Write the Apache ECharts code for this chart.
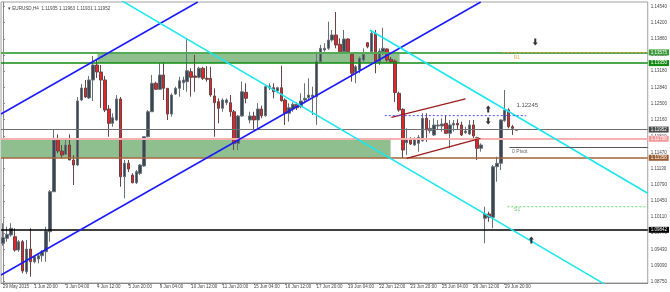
<!DOCTYPE html>
<html><head><meta charset="utf-8">
<script src="https://cdn.jsdelivr.net/npm/echarts@6/dist/echarts.min.js"></script>
<style>html,body{margin:0;padding:0;background:#fff}#c{width:670px;height:292px}</style>
</head><body><div id="c"></div><script>
// ---- data ----
const xTickLabels = ['29 May 2015','1 Jun 20:00','3 Jun 04:00','4 Jun 12:00','5 Jun 20:00','9 Jun 04:00','10 Jun 12:00','11 Jun 20:00','15 Jun 04:00','16 Jun 12:00','17 Jun 20:00','19 Jun 04:00','22 Jun 12:00','23 Jun 20:00','25 Jun 04:00','26 Jun 12:00','29 Jun 20:00'];
const barsPerTick = 8;
const slotCount = 165;
const opens = [1.09558,1.09663,1.09733,1.09697,1.09417,1.09592,1.08960,1.09438,1.09171,1.09228,
1.09297,1.09381,1.09802,1.10644,1.11747,1.11500,1.11431,1.11627,1.11311,1.11206,
1.12574,1.12826,1.12616,1.12995,1.13310,1.13163,1.12995,1.12384,1.12083,1.12153,
1.12595,1.10960,1.11242,1.10995,1.10833,1.11031,1.11185,1.11801,1.12327,1.12925,
1.12799,1.13100,1.12820,1.12279,1.12700,1.12820,1.12938,1.12959,1.13169,1.13079,
1.13051,1.13241,1.13030,1.13030,1.12658,1.12538,1.12399,1.12517,1.12517,1.12327,
1.11662,1.12237,1.12736,1.12153,1.12237,1.12153,1.12384,1.12243,1.12832,1.12832,
1.12763,1.12832,1.12574,1.12294,1.12384,1.12483,1.12433,1.12574,1.12622,1.12643,
1.12643,1.13380,1.13626,1.13662,1.13836,1.13942,1.13746,1.13590,1.13857,1.13535,
1.13157,1.13205,1.13415,1.13779,1.13590,1.13977,1.13380,1.13590,1.13647,1.13430,
1.13394,1.12715,1.12378,1.11675,1.11747,1.11627,1.11662,1.11717,1.12189,1.11928,
1.11837,1.12027,1.12027,1.12083,1.11873,1.12048,1.12083,1.12048,1.11886,1.11858,
1.12048,1.11780,1.11557,1.10084,1.10175,1.10105,1.11170,1.11242,1.12138,1.12363,
1.12012,1.11935];
const closes = [1.09676,1.09747,1.09874,1.09417,1.09592,1.08975,1.09438,1.09171,1.09276,1.09297,
1.09381,1.09817,1.10644,1.11732,1.11500,1.11416,1.11627,1.11311,1.11206,1.12553,
1.12826,1.12637,1.12995,1.13310,1.13163,1.12995,1.12363,1.12083,1.12201,1.12595,
1.10960,1.11242,1.11122,1.10833,1.11065,1.11206,1.11801,1.12327,1.12925,1.12799,
1.13100,1.12820,1.12279,1.12679,1.12820,1.12980,1.12995,1.13190,1.13051,1.13051,
1.13241,1.13030,1.13009,1.12679,1.12517,1.12399,1.12574,1.12574,1.12327,1.11662,
1.12237,1.12748,1.12609,1.12237,1.12153,1.12384,1.12243,1.12854,1.12868,1.12748,
1.12832,1.12559,1.12294,1.12412,1.12483,1.12412,1.12553,1.12609,1.12679,1.12679,
1.13380,1.13662,1.13662,1.13836,1.13942,1.13731,1.13590,1.13857,1.13590,1.13136,
1.13274,1.13451,1.13535,1.13695,1.13977,1.13380,1.13605,1.13662,1.13415,1.13380,
1.12731,1.12363,1.11521,1.11747,1.11648,1.11747,1.11789,1.12189,1.11942,1.11978,
1.12048,1.12048,1.12069,1.11873,1.12048,1.12083,1.12048,1.11837,1.11921,1.12048,
1.11816,1.11557,1.11627,1.10175,1.10105,1.11170,1.11242,1.12153,1.12363,1.12012,
1.11978,1.11952];
const lows = [1.09508,1.09592,1.09697,1.09381,1.09381,1.08927,1.08912,1.08855,1.09137,1.09137,
1.09171,1.09171,1.09592,1.10644,1.11452,1.11347,1.11416,1.11311,1.10785,1.11185,
1.12553,1.12616,1.12595,1.12553,1.13037,1.12405,1.12321,1.11801,1.12012,1.12132,
1.10749,1.10505,1.11058,1.10821,1.10806,1.10995,1.11170,1.11789,1.12327,1.12784,
1.12784,1.12574,1.12153,1.12222,1.12679,1.12643,1.12784,1.12748,1.12643,1.12748,
1.13030,1.12995,1.12959,1.12643,1.11801,1.12083,1.12327,1.12468,1.12222,1.11521,
1.11521,1.12222,1.12504,1.12083,1.11957,1.11942,1.12189,1.12222,1.12784,1.12609,
1.12715,1.12538,1.12048,1.12117,1.12327,1.12363,1.12399,1.12504,1.12574,1.12258,
1.12048,1.13380,1.13590,1.13626,1.13801,1.13662,1.13556,1.13556,1.13577,1.12959,
1.12925,1.13136,1.13380,1.13662,1.13556,1.13136,1.13310,1.13521,1.13380,1.13352,
1.12532,1.12327,1.11347,1.11416,1.11627,1.11606,1.11486,1.11696,1.11696,1.11873,
1.11816,1.11942,1.11907,1.11858,1.11557,1.11907,1.11942,1.11816,1.11858,1.11837,
1.11732,1.11311,1.11486,1.09558,1.10013,1.09874,1.10854,1.11101,1.12117,1.11978,
1.11837,1.11931];
const highs = [1.09979,1.09907,1.09979,1.09874,1.09627,1.09627,1.09627,1.09874,1.09312,1.09348,
1.09417,1.09907,1.10680,1.11942,1.11852,1.11627,1.11732,1.11852,1.11416,1.12637,
1.12910,1.12995,1.13079,1.13500,1.13415,1.13310,1.13079,1.12468,1.12294,1.12679,
1.12637,1.11311,1.11311,1.11031,1.11101,1.11227,1.11801,1.12363,1.13100,1.12959,
1.13346,1.13359,1.12820,1.12715,1.12854,1.13064,1.13064,1.13878,1.13241,1.13521,
1.13274,1.13274,1.13289,1.13274,1.12820,1.12609,1.12609,1.12609,1.12679,1.12363,
1.12258,1.12959,1.12925,1.12327,1.12327,1.12511,1.12454,1.12889,1.12925,1.12925,
1.12854,1.13295,1.12609,1.12504,1.12525,1.12525,1.12715,1.12925,1.13030,1.12854,
1.13590,1.13731,1.13767,1.14221,1.14047,1.14426,1.13872,1.14047,1.13872,1.13556,
1.13310,1.13485,1.13662,1.13788,1.14026,1.14047,1.13662,1.14095,1.13662,1.13479,
1.13426,1.12748,1.12399,1.11978,1.11789,1.11789,1.11837,1.12294,1.12294,1.12153,
1.12189,1.12153,1.12189,1.12258,1.12153,1.12153,1.12168,1.12117,1.12012,1.12153,
1.12153,1.11801,1.11662,1.10328,1.10223,1.11206,1.11380,1.12168,1.12784,1.12399,
1.12048,1.11963];
const yTicks = [1.0875,1.0909,1.0943,1.0977,1.1011,1.1045,1.1079,1.1113,1.1147,1.1181,1.1216,1.1250,1.1284,1.1318,1.1352,1.1386,1.1420,1.1454];
const yMin = 1.08723, yMax = 1.14636;
const levelPrices = [1.13575, 1.13350, 1.11952, 1.11758, 1.11358, 1.09842];
const upperZone = [[24.1, 1.13575], [101.2, 1.13350]];
const lowerZone = [[-0.5, 1.11758], [98.9, 1.11358]];
const blueLower = [[-0.5, 1.08891], [121.9, 1.14636]];
const blueUpper = [[-0.5, 1.12279], [49.7, 1.14636]];
const cyanLower = [[30.0, 1.14678], [164.5, 1.08165]];
const cyanUpper = [[93.6, 1.14047], [164.5, 1.10612]];
const maroonUpper = [[99.1, 1.12210], [118.0, 1.12595]];
const maroonLower = [[103.0, 1.11347], [121.8, 1.11768]];
const markedLevel = [[97.4, 1.12245], [133.5, 1.12245]];
const pivotR1 = [[127.5, 1.13575], [164.5, 1.13575]];
const pivotP = [[129.2, 1.11574], [164.5, 1.11574]];
const pivotS1 = [[128.7, 1.10328], [164.5, 1.10328]];
const textNotes = [
  {text: '1.12245', at: [131.0, 1.12468]},
  {text: 'R1', at: [130.3, 1.13460]},
  {text: '0 Pivot', at: [129.9, 1.11479]},
  {text: 'S1', at: [130.4, 1.10259]}
];
const upArrows = [[123.8, 1.12384], [134.8, 1.09627]];
const downArrows = [[123.8, 1.12132], [135.8, 1.13794]];
const titleText = '\u25BE EURUSD,H4  1.11935 1.11963 1.11931 1.11952';

// ---- build ----
const cats = Array.from({length: slotCount}, (_, i) => String(i));
const ohlc = opens.map((o, i) => [o, closes[i], lows[i], highs[i]]);
const showTick = (idx) => idx % barsPerTick === 0 && idx / barsPerTick < xTickLabels.length;
const FONT = 'Liberation Sans';
const xLo = -0.5, xHi = slotCount - 0.5;
const levelStyles = [
  {c: '#55aa55', w: 2, box: '#3a9a3a'},
  {c: '#128a12', w: 1.5, box: '#138a13'},
  {c: '#707070', w: 1, box: '#4a4a4a'},
  {c: '#f5b0b0', w: 2, box: '#f29a9a'},
  {c: '#a0643c', w: 1.5, box: '#9a5a2e'},
  {c: '#000000', w: 1.5, box: '#000000'}
];
const noteColors = ['#222222', '#e0982c', '#333333', '#44bb44'];
function trend(data, color, width, type) {
  return {type: 'line', xAxisIndex: 1, yAxisIndex: 0, data: data, showSymbol: false, symbol: 'none',
    silent: true, z: 6, clip: true, animation: false,
    lineStyle: {color: color, width: width, type: type || 'solid'}};
}
const arrowPath = 'path://M5,0 L10,5 L7,5 L7,12 L3,12 L3,5 L0,5 Z';
const chart = echarts.init(document.getElementById('c'), null, {renderer: 'canvas'});
chart.setOption({
  animation: false,
  backgroundColor: '#ffffff',
  title: {text: titleText, left: 3, top: 1, textStyle: {fontSize: 4.6, fontWeight: 'normal', color: '#444', fontFamily: FONT}},
  grid: {left: 0, right: 21, top: 2, bottom: 9, show: true, borderColor: '#a0a0a0', borderWidth: 1},
  xAxis: [
    {type: 'category', data: cats, boundaryGap: true,
      axisLine: {lineStyle: {color: '#888', width: 1}},
      axisTick: {show: true, interval: (i) => showTick(i), alignWithLabel: true, length: 2, lineStyle: {color: '#888'}},
      axisLabel: {interval: (i) => showTick(i), formatter: (v, i) => xTickLabels[i / barsPerTick] || '',
        align: 'left', margin: 1, fontSize: 4.5, color: '#444', fontFamily: FONT},
      splitLine: {show: false}},
    {type: 'value', min: xLo, max: xHi, show: false, gridIndex: 0}
  ],
  yAxis: {type: 'value', position: 'right', min: yMin, max: yMax, scale: true,
    axisLine: {show: true, lineStyle: {color: '#888'}},
    axisTick: {show: true, length: 2, customValues: yTicks, lineStyle: {color: '#888'}},
    axisLabel: {customValues: yTicks, formatter: (v) => v.toFixed(5), margin: 3, fontSize: 4.5, color: '#444', fontFamily: FONT},
    splitLine: {show: false}},
  series: [
    {type: 'line', xAxisIndex: 1, data: [], silent: true, z: 1,
      markArea: {silent: true, itemStyle: {color: '#8fbf8f'},
        data: [[{coord: upperZone[0]}, {coord: upperZone[1]}], [{coord: lowerZone[0]}, {coord: lowerZone[1]}]]}},
    {type: 'line', xAxisIndex: 1, data: [], silent: true, z: 5,
      markLine: {silent: true, symbol: ['none', 'none'], animation: false,
        data: levelPrices.map((p, k) => [
          {coord: [xLo, p],
            lineStyle: {color: levelStyles[k].c, width: levelStyles[k].w, type: 'solid'},
            label: {show: true, position: 'end', distance: 1, formatter: p.toFixed(5),
              backgroundColor: levelStyles[k].box, color: '#fff', fontSize: 4.5, fontFamily: FONT,
              padding: [1, 2, 0, 2], lineHeight: 5}},
          {coord: [xHi, p]}])}},
    {type: 'candlestick', xAxisIndex: 0, data: ohlc, barWidth: 3, z: 4,
      itemStyle: {color: '#3b4652', color0: '#e3262d', borderColor: '#687078', borderColor0: '#6a4444', borderWidth: 1}},
    trend(blueLower, '#1a1aff', 1.5),
    trend(blueUpper, '#1a1aff', 1.5),
    trend(cyanLower, '#19e6f0', 1.5),
    trend(cyanUpper, '#19e6f0', 1.5),
    trend(maroonUpper, '#9b1b1b', 1.3),
    trend(maroonLower, '#9b1b1b', 1.3),
    trend(markedLevel, '#4a4aff', 1, [2, 2]),
    trend(pivotR1, '#f0a030', 1, [2, 2]),
    trend(pivotP, '#555555', 1),
    trend(pivotS1, '#66dd66', 1, [2, 2]),
    {type: 'scatter', xAxisIndex: 1, data: textNotes.map((n, k) => ({value: n.at, name: n.text,
        label: {color: noteColors[k], fontSize: k === 0 ? 6 : 5}})), symbolSize: 0, z: 7, silent: true,
      label: {show: true, position: 'inside', align: 'left', formatter: (p) => p.name, fontFamily: FONT,
        fontSize: 5, color: '#333'}},
    {type: 'scatter', xAxisIndex: 1, data: upArrows, symbol: arrowPath, symbolSize: [5, 7], z: 7, silent: true, itemStyle: {color: '#000'}},
    {type: 'scatter', xAxisIndex: 1, data: downArrows, symbol: arrowPath, symbolRotate: 180, symbolSize: [5, 7], z: 7, silent: true, itemStyle: {color: '#000'}}
  ]
});
</script></body></html>
